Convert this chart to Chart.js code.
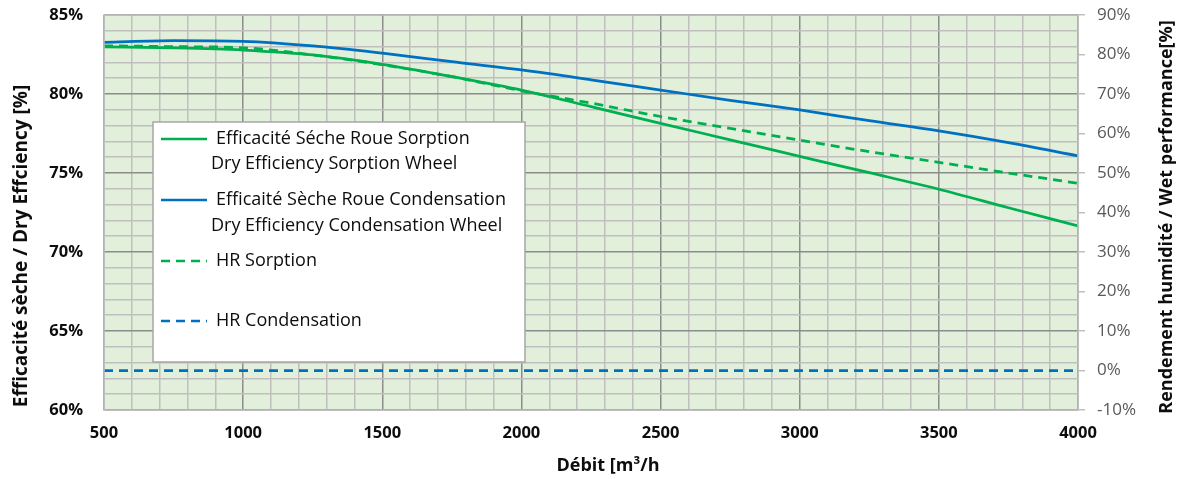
<!DOCTYPE html>
<html>
<head>
<meta charset="utf-8">
<script src="https://cdn.jsdelivr.net/npm/chart.js@4.4.1/dist/chart.umd.min.js"></script>
<style>
  html, body { margin: 0; padding: 0; background: #ffffff; }
  #wrap { position: relative; width: 1181px; height: 479px; }
</style>
</head>
<body>
<div id="wrap"><canvas id="c" width="1181" height="479"></canvas></div>
<script>
// ---- Data ----
const flows = [500, 750, 1000, 1250, 1500, 1750, 2000, 2250, 2500, 2750, 3000, 3250, 3500, 3750, 4000];
const drySorption      = [82.98, 82.92, 82.78, 82.47, 81.88, 81.10, 80.25, 79.20, 78.14, 77.10, 76.05, 75.02, 73.97, 72.80, 71.65];
const dryCondensation  = [83.27, 83.38, 83.33, 83.04, 82.58, 82.05, 81.52, 80.90, 80.25, 79.60, 78.99, 78.31, 77.66, 76.92, 76.08];
const hrSorption       = [82.2, 82.0, 81.7, 79.9, 77.4, 74.4, 70.8, 67.7, 64.3, 61.3, 58.3, 55.4, 52.7, 50.0, 47.4];
const hrCondensation   = [0, 0, 0, 0, 0, 0, 0, 0, 0, 0, 0, 0, 0, 0, 0];

const seriesLabels = [
  ['Efficacité Séche Roue Sorption', 'Dry Efficiency Sorption Wheel'],
  ['Efficaité Sèche Roue Condensation', 'Dry Efficiency Condensation Wheel'],
  ['HR Sorption'],
  ['HR Condensation']
];
const xTitle = 'Débit [m³/h';
const yLeftTitle = 'Efficacité sèche / Dry Effciency [%]';
const yRightTitle = 'Rendement humidité / Wet performance[%]';

const GREEN = '#00B050';
const BLUE = '#0070C0';

function pts(values) { return flows.map((f, i) => ({ x: f, y: values[i] })); }

const bgPlugin = {
  id: 'plotBg',
  beforeDraw(chart) {
    const { ctx, chartArea: a } = chart;
    ctx.save();
    ctx.fillStyle = '#E2EFDA';
    ctx.fillRect(a.left, a.top, a.right - a.left, a.bottom - a.top);
    ctx.restore();
  },
  afterDatasetsDraw(chart) {
    const { ctx, chartArea: a } = chart;
    ctx.save();
    ctx.strokeStyle = '#BFBFBF';
    ctx.lineWidth = 1.5;
    ctx.strokeRect(a.left, a.top, a.right - a.left, a.bottom - a.top);
    ctx.restore();
  }
};

const legendPlugin = {
  id: 'boxLegend',
  afterDraw(chart) {
    const { ctx } = chart;
    ctx.save();
    ctx.fillStyle = '#FFFFFF';
    ctx.fillRect(153, 122, 372, 240);
    ctx.strokeStyle = '#A6A6A6';
    ctx.lineWidth = 1.5;
    ctx.strokeRect(153, 122, 372, 240);
    const rows = [[139, 164], [200, 226], [261], [321]];
    ctx.font = '18px "Open Sans"';
    ctx.textBaseline = 'middle';
    ctx.fillStyle = '#0D0D0D';
    chart.data.datasets.forEach((ds, i) => {
      const ys = rows[i];
      ctx.beginPath();
      ctx.strokeStyle = ds.borderColor;
      ctx.lineWidth = 2.5;
      ctx.setLineDash(ds.borderDash || []);
      ctx.moveTo(161, ys[0]);
      ctx.lineTo(207, ys[0]);
      ctx.stroke();
      ctx.setLineDash([]);
      const lines = Array.isArray(ds.label) ? ds.label : [ds.label];
      lines.forEach((t, k) => {
        ctx.fillText(t, k === 0 ? 216 : 211, ys[k]);
      });
    });
    ctx.restore();
  }
};

const titlePlugin = {
  id: 'axisTitles',
  afterDraw(chart) {
    const { ctx } = chart;
    ctx.save();
    ctx.fillStyle = '#0D0D0D';
    ctx.font = 'bold 18px "Open Sans"';
    ctx.textAlign = 'center';
    ctx.textBaseline = 'middle';
    ctx.fillText(xTitle, 608, 466);
    ctx.restore();
    ctx.save();
    ctx.fillStyle = '#0D0D0D';
    ctx.font = 'bold 19px "Open Sans"';
    ctx.textAlign = 'center';
    ctx.textBaseline = 'middle';
    ctx.translate(22, 246);
    ctx.rotate(-Math.PI / 2);
    ctx.fillText(yLeftTitle, 0, 0);
    ctx.restore();
    ctx.save();
    ctx.fillStyle = '#0D0D0D';
    ctx.font = 'bold 18px "Open Sans"';
    ctx.textAlign = 'center';
    ctx.textBaseline = 'middle';
    ctx.translate(1167, 217);
    ctx.rotate(-Math.PI / 2);
    ctx.fillText(yRightTitle, 0, 0);
    ctx.restore();
  }
};

const lineCommon = { pointRadius: 0, borderWidth: 2.75, cubicInterpolationMode: 'monotone', fill: false };

function noPad(s) { s.paddingTop = 0; s.paddingBottom = 0; s.paddingLeft = 0; s.paddingRight = 0; }

new Chart(document.getElementById('c'), {
  type: 'line',
  data: {
    datasets: [
      { ...lineCommon, label: seriesLabels[0], data: pts(drySorption), borderColor: GREEN, yAxisID: 'y' },
      { ...lineCommon, label: seriesLabels[1], data: pts(dryCondensation), borderColor: BLUE, yAxisID: 'y' },
      { ...lineCommon, label: seriesLabels[2], data: pts(hrSorption), borderColor: GREEN, borderDash: [9, 6], yAxisID: 'y2' },
      { ...lineCommon, label: seriesLabels[3], data: pts(hrCondensation), borderColor: BLUE, borderDash: [9, 6], yAxisID: 'y2' }
    ]
  },
  options: {
    responsive: false,
    animation: false,
    layout: { padding: { top: 15, left: 0, right: 0, bottom: 0 } },
    plugins: { legend: { display: false }, tooltip: { enabled: false }, title: { display: false } },
    scales: {
      x: {
        type: 'linear', min: 500, max: 4000,
        afterFit(s) { s.height = 69; noPad(s); },
        ticks: {
          stepSize: 100, autoSkip: false, maxRotation: 0, padding: 13,
          color: '#0D0D0D', font: { family: 'Open Sans', weight: 'bold', size: 16.5 },
          callback: v => (v % 500 === 0 ? String(v) : '')
        },
        border: { display: false },
        grid: {
          drawTicks: false,
          lineWidth: 1.5,
          color: c => (c.tick && c.tick.value % 500 === 0 ? '#8C8C8C' : '#BFBFBF')
        }
      },
      y: {
        position: 'left', min: 60, max: 85,
        afterFit(s) { s.width = 104; noPad(s); },
        ticks: {
          stepSize: 1, autoSkip: false, padding: 21,
          color: '#0D0D0D', font: { family: 'Open Sans', weight: 'bold', size: 16.5 },
          callback: v => (v % 5 === 0 ? v + '%' : '')
        },
        border: { display: false },
        grid: {
          drawTicks: false,
          lineWidth: 1.5,
          color: c => (c.tick && c.tick.value % 5 === 0 ? '#8C8C8C' : '#BFBFBF')
        }
      },
      y2: {
        position: 'right', min: -10, max: 90,
        afterFit(s) { s.width = 103; noPad(s); },
        ticks: {
          stepSize: 10, padding: 12,
          color: '#595959', font: { family: 'Open Sans', size: 17 },
          callback: v => v + '%'
        },
        border: { display: false },
        grid: { drawOnChartArea: false, drawTicks: true, tickLength: 7, color: '#BFBFBF', lineWidth: 1.5 }
      }
    }
  },
  plugins: [bgPlugin, legendPlugin, titlePlugin]
});
</script>
</body>
</html>
